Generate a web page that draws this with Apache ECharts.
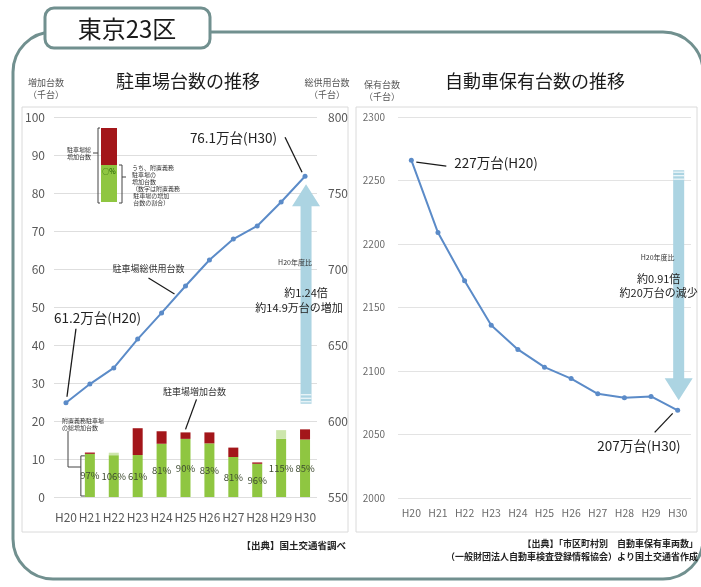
<!DOCTYPE html>
<html>
<head>
<meta charset="utf-8">
<script src="https://cdn.jsdelivr.net/npm/echarts@6/dist/echarts.min.js"></script>
<style>
html,body{margin:0;padding:0;background:#fff}
#c{width:701px;height:587px}
</style>
</head>
<body>
<div id="c"></div>
<script>
// 年度
const years = ['H20', 'H21', 'H22', 'H23', 'H24', 'H25', 'H26', 'H27', 'H28', 'H29', 'H30'];
// 駐車場総供用台数（千台）
const parkingTotal = [612, 624.3, 634.9, 653.9, 671.1, 688.8, 705.9, 719.7, 728.3, 744.1, 761];
// 駐車場増加台数（千台）
const parkingIncrease = [null, 11.7, 11.0, 18.1, 17.3, 17.0, 17.0, 13.0, 9.1, 15.3, 17.8];
// うち附置義務駐車場の増加台数の割合（％）
const attachedShare = [null, 97, 106, 61, 81, 90, 83, 81, 96, 115, 85];
// 自動車保有台数（千台）
const carsOwned = [2266, 2209, 2171, 2136, 2117, 2103, 2094, 2082, 2079, 2080, 2069];

const FONT = '"Noto Sans CJK JP", "Noto Sans", sans-serif';
const GREEN = '#8fc641', RED = '#a3161a', LIGHTGREEN = '#cde6ac';
const LINEBLUE = '#5b8bc8', ARROW = '#acd4e2', FRAME = '#71908f';

const attached = parkingIncrease.map((v, i) => v == null ? null : v * attachedShare[i] / 100);
const greenPart = parkingIncrease.map((v, i) => v == null ? null : Math.min(v, attached[i]));
const redPart = parkingIncrease.map((v, i) => v == null ? null : Math.max(v - attached[i], 0));
const lightPart = parkingIncrease.map((v, i) => v == null ? null : Math.max(attached[i] - v, 0));

const chart = echarts.init(document.getElementById('c'));

const catAxisCommon = {
  type: 'category', data: years, boundaryGap: true,
  axisLine: { show: false }, axisTick: { show: false }
};
const plain = v => String(v);

chart.setOption({
  animation: false,
  textStyle: { fontFamily: FONT },
  grid: [
    { left: 54, top: 117, width: 263, height: 380 },
    { left: 398, top: 117, width: 293, height: 381 }
  ],
  xAxis: [
    Object.assign({ gridIndex: 0, axisLabel: { interval: 0, fontSize: 12, color: '#595959', margin: 14, fontFamily: FONT } }, catAxisCommon),
    Object.assign({ gridIndex: 1, axisLabel: { interval: 0, fontSize: 10.5, color: '#6b6b6b', margin: 10, fontFamily: FONT } }, catAxisCommon)
  ],
  yAxis: [
    { gridIndex: 0, type: 'value', min: 0, max: 100, interval: 10, position: 'left',
      axisLine: { show: false }, axisTick: { show: false },
      axisLabel: { fontSize: 12, color: '#595959', margin: 9, fontFamily: FONT, formatter: plain },
      splitLine: { lineStyle: { color: '#dedede', width: 1 } } },
    { gridIndex: 0, type: 'value', min: 550, max: 800, interval: 50, position: 'right',
      axisLine: { show: false }, axisTick: { show: false },
      axisLabel: { fontSize: 12, color: '#595959', margin: 11, fontFamily: FONT, formatter: plain },
      splitLine: { show: false } },
    { gridIndex: 1, type: 'value', min: 2000, max: 2300, interval: 50, position: 'left',
      axisLine: { show: false }, axisTick: { show: false },
      axisLabel: { fontSize: 10, color: '#6b6b6b', margin: 13, fontFamily: FONT, formatter: plain },
      splitLine: { lineStyle: { color: '#e3e3e3', width: 1 } } }
  ],
  series: [
    { type: 'bar', xAxisIndex: 0, yAxisIndex: 0, stack: 'inc', barWidth: 10,
      data: greenPart, itemStyle: { color: GREEN },
      label: { show: true, position: 'inside', fontSize: 9.5, color: '#3e4a30', fontFamily: FONT,
        formatter: p => attachedShare[p.dataIndex] == null ? '' : attachedShare[p.dataIndex] + '%' } },
    { type: 'bar', xAxisIndex: 0, yAxisIndex: 0, stack: 'inc', barWidth: 10,
      data: redPart, itemStyle: { color: RED } },
    { type: 'bar', xAxisIndex: 0, yAxisIndex: 0, stack: 'inc', barWidth: 10,
      data: lightPart, itemStyle: { color: LIGHTGREEN } },
    { type: 'line', xAxisIndex: 0, yAxisIndex: 1, data: parkingTotal, z: 5,
      symbol: 'circle', symbolSize: 5, lineStyle: { color: LINEBLUE, width: 2 },
      itemStyle: { color: LINEBLUE } },
    { type: 'line', xAxisIndex: 1, yAxisIndex: 2, data: carsOwned, z: 5,
      symbol: 'circle', symbolSize: 5, lineStyle: { color: LINEBLUE, width: 2 },
      itemStyle: { color: LINEBLUE } }
  ]
});

const P = (si, i, v) => chart.convertToPixel({ seriesIndex: si }, [i, v]);
const g = [];
const txt = (text, x, y, o) => g.push(Object.assign({ type: 'text', z: 20, x, y,
  style: Object.assign({ text, fill: '#222', fontFamily: FONT, fontSize: 12, align: 'center', verticalAlign: 'middle' }, o || {}) }));
const line = (pts, o) => g.push({ type: 'polyline', z: 20, shape: { points: pts },
  style: Object.assign({ stroke: '#1a1a1a', lineWidth: 1.3, fill: null }, o || {}) });

// 外枠とタイトル
g.push({ type: 'rect', z: 1, shape: { x: 13, y: 32, width: 690, height: 547, r: 40 },
  style: { fill: null, stroke: FRAME, lineWidth: 3 } });
g.push({ type: 'rect', z: 2, shape: { x: 45, y: 8, width: 165, height: 40, r: 9 },
  style: { fill: '#fff', stroke: FRAME, lineWidth: 3 } });
txt('東京23区', 127, 29, { fontSize: 24, fill: '#1a1a1a' });

// グラフ枠
g.push({ type: 'rect', z: 0, shape: { x: 22, y: 107, width: 326, height: 425 },
  style: { fill: null, stroke: '#dadada', lineWidth: 1 } });
g.push({ type: 'rect', z: 0, shape: { x: 356, y: 107, width: 341, height: 425 },
  style: { fill: null, stroke: '#dadada', lineWidth: 1 } });

// 見出し・軸名
txt('駐車場台数の推移', 188, 81, { fontSize: 18, fill: '#1a1a1a' });
txt('自動車保有台数の推移', 535, 81, { fontSize: 18, fill: '#1a1a1a' });
txt('増加台数\n（千台）', 46, 89, { fontSize: 9, fill: '#555', lineHeight: 12 });
txt('総供用台数\n（千台）', 327, 89, { fontSize: 9, fill: '#555', lineHeight: 12 });
txt('保有台数\n（千台）', 382, 91, { fontSize: 9, fill: '#555', lineHeight: 12 });

// 出典
txt('【出典】国土交通省調べ', 346, 545, { fontSize: 9.5, align: 'right', fontWeight: 'bold', fill: '#222' });
txt('【出典】「市区町村別　自動車保有車両数」', 698, 544, { fontSize: 9, align: 'right', fontWeight: 'bold', fill: '#222' });
txt('（一般財団法人自動車検査登録情報協会）より国土交通省作成', 698, 557, { fontSize: 9, align: 'right', fontWeight: 'bold', fill: '#222' });

// 増減矢印（左：増加、右：減少）
function arrow(x, fromY, toY) {
  const dir = toY < fromY ? -1 : 1;
  const hw = 5.5, headW = 14, headH = 22;
  const neck = toY - dir * headH;
  g.push({ type: 'polygon', z: 1, shape: { points: [
    [x - hw, fromY], [x - hw, neck], [x - headW, neck], [x, toY],
    [x + headW, neck], [x + hw, neck], [x + hw, fromY]] },
    style: { fill: ARROW } });
  [2, 5.5, 9].forEach(d => g.push({ type: 'line', z: 1,
    shape: { x1: x - hw, y1: fromY + dir * d, x2: x + hw, y2: fromY + dir * d },
    style: { stroke: '#f2f9fb', lineWidth: 1.2 } }));
}
const L0 = P(3, 0, parkingTotal[0]), L10 = P(3, 10, parkingTotal[10]);
arrow(L10[0] + 1, L0[1] + 1, L10[1] + 8);
const R0 = P(4, 0, carsOwned[0]), R10 = P(4, 10, carsOwned[10]);
arrow(R10[0] + 1, R0[1] + 10, R10[1] - 10);

// 左グラフの注記
const ANN = { fontSize: 13.5 };
txt((parkingTotal[10] / 10).toFixed(1) + '万台(H30)', L10[0] - 28, L10[1] - 38, Object.assign({ align: 'right' }, ANN));
line([[L10[0] - 20, L10[1] - 39], [L10[0] - 3, L10[1] - 4]]);
txt((parkingTotal[0] / 10).toFixed(1) + '万台(H20)', L0[0] - 12, L0[1] - 85, Object.assign({ align: 'left' }, ANN));
line([[L0[0] + 10, L0[1] - 74], [L0[0] + 1, L0[1] - 6]]);

const L5 = P(3, 5, parkingTotal[5]);
txt('駐車場総供用台数', L5[0] - 37, L5[1] - 17, { fontSize: 9, fill: '#333' });
line([[L5[0] - 37, L5[1] - 8], [L5[0] - 11, L5[1] + 8]]);

const B5 = P(0, 5, parkingIncrease[5]);
txt('駐車場増加台数', B5[0] + 9, B5[1] - 41, { fontSize: 9, fill: '#333' });
line([[B5[0] + 11, B5[1] - 33], [B5[0], B5[1] - 3]]);

const ratio = parkingTotal[10] / parkingTotal[0];
const diff = (parkingTotal[10] - parkingTotal[0]) / 10;
txt('H20年度比', L10[0] - 10, 262, { fontSize: 7, fill: '#333' });
txt('約' + ratio.toFixed(2) + '倍', L10[0] + 1, 293, { fontSize: 11 });
txt('約' + diff.toFixed(1) + '万台の増加', L10[0] - 6, 308, { fontSize: 11 });

// 附置義務駐車場の総増加台数（H21の棒を指す括弧）
const b1Top = P(0, 1, greenPart[1]), b1Base = P(0, 1, 0);
const bx = b1Top[0] - 7;
txt('附置義務駐車場\nの総増加台数', 62, 424, { fontSize: 6, align: 'left', fill: '#333', lineHeight: 7 });
line([[bx + 2, b1Top[1] + 2], [bx - 2, b1Top[1] + 2], [bx - 2, b1Base[1] - 1], [bx + 2, b1Base[1] - 1]], { lineWidth: 1, stroke: '#444' });
line([[68, 431], [68, 467], [bx - 2, 467]], { lineWidth: 1, stroke: '#444' });

// 凡例（棒の見方）
const kx = 101, ky = 128;
g.push({ type: 'rect', z: 20, shape: { x: kx, y: ky, width: 16, height: 37 }, style: { fill: RED } });
g.push({ type: 'rect', z: 20, shape: { x: kx, y: ky + 37, width: 16, height: 37 }, style: { fill: GREEN } });
txt('○%', kx + 8, ky + 43, { fontSize: 7, fill: '#1f5a00' });
line([[kx - 1, ky], [kx - 3, ky], [kx - 3, ky + 75], [kx - 1, ky + 75]], { lineWidth: 1, stroke: '#444' });
line([[kx - 3, ky + 25], [kx - 8, ky + 25]], { lineWidth: 1, stroke: '#444' });
txt('駐車場総\n増加台数', kx - 10, ky + 25, { fontSize: 6, align: 'right', fill: '#333', lineHeight: 7 });
line([[kx + 18, ky + 37], [kx + 21, ky + 37], [kx + 21, ky + 75], [kx + 18, ky + 75]], { lineWidth: 1, stroke: '#444' });
line([[kx + 21, ky + 49], [kx + 25, ky + 49]], { lineWidth: 1, stroke: '#444' });
txt('うち、附置義務\n駐車場の\n増加台数\n（数字は附置義務\n 駐車場の増加\n 台数の割合）', kx + 31, ky + 57,
  { fontSize: 6, align: 'left', fill: '#333', lineHeight: 7 });

// 右グラフの注記
txt(Math.round(carsOwned[0] / 10) + '万台(H20)', R0[0] + 43, R0[1] + 3, Object.assign({ align: 'left' }, ANN));
line([[R0[0] + 5, R0[1] + 2], [R0[0] + 35, R0[1] + 6]]);
txt(Math.round(carsOwned[10] / 10) + '万台(H30)', R10[0] + 3, R10[1] + 36, Object.assign({ align: 'right' }, ANN));
line([[R10[0] - 23, R10[1] + 22], [R10[0] - 5, R10[1] + 3]]);

const rRatio = carsOwned[10] / carsOwned[0];
const rDiff = Math.round((carsOwned[0] - carsOwned[10]) / 10);
txt('H20年度比', R10[0] - 20, 257, { fontSize: 7, fill: '#333' });
txt('約' + rRatio.toFixed(2) + '倍', R10[0] - 19, 279, { fontSize: 11 });
txt('約' + rDiff + '万台の減少', R10[0] - 19, 293, { fontSize: 11 });

chart.setOption({ graphic: { elements: g } });
</script>
</body>
</html>
